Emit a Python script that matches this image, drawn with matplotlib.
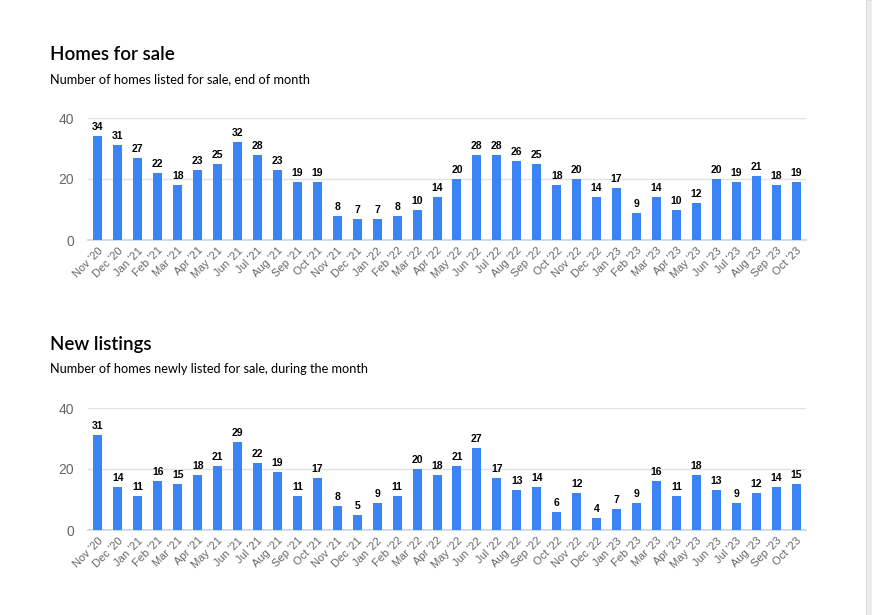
import matplotlib.pyplot as plt
from matplotlib.patches import Rectangle

# Data
months = ["Nov '20", "Dec '20", "Jan '21", "Feb '21", "Mar '21", "Apr '21", "May '21", "Jun '21",
          "Jul '21", "Aug '21", "Sep '21", "Oct '21", "Nov '21", "Dec '21", "Jan '22", "Feb '22",
          "Mar '22", "Apr '22", "May '22", "Jun '22", "Jul '22", "Aug '22", "Sep '22", "Oct '22",
          "Nov '22", "Dec '22", "Jan '23", "Feb '23", "Mar '23", "Apr '23", "May '23", "Jun '23",
          "Jul '23", "Aug '23", "Sep '23", "Oct '23"]
homes_for_sale = [34, 31, 27, 22, 18, 23, 25, 32, 28, 23, 19, 19, 8, 7, 7, 8, 10, 14, 20, 28,
                  28, 26, 25, 18, 20, 14, 17, 9, 14, 10, 12, 20, 19, 21, 18, 19]
new_listings = [31, 14, 11, 16, 15, 18, 21, 29, 22, 19, 11, 17, 8, 5, 9, 11, 20, 18, 21, 27,
                17, 13, 14, 6, 12, 4, 7, 9, 16, 11, 18, 13, 9, 12, 14, 15]
y_ticks = [0, 20, 40]

BAR_COLOR = "#3b84f6"
W, H = 872, 615


def draw_panel(fig, top_px, values, title, subtitle):
    left, right, bottom = 88, 806, top_px + 122
    ax = fig.add_axes([left / W, 1 - bottom / H, (right - left) / W, (bottom - top_px) / H])
    x = range(len(values))
    ax.bar(x, values, width=0.45, color=BAR_COLOR, zorder=3)
    for xi, v in zip(x, values):
        ax.text(xi, v + 1.3, str(v), ha="center", va="bottom", fontsize=7.5,
                fontweight="bold", family="Liberation Sans", color="black")
    ax.set_xlim(-0.5, len(values) - 0.5)
    ax.set_ylim(0, 40)
    ax.set_yticks(y_ticks)
    ax.set_xticks(list(x))
    ax.set_xticklabels(months, rotation=45, ha="right", rotation_mode="anchor",
                       fontsize=8, family="Liberation Sans", color="#666666")
    ax.tick_params(axis="x", length=0, pad=4)
    ax.tick_params(axis="y", length=0, pad=10, labelsize=10, labelcolor="#666666")
    for lab in ax.get_yticklabels():
        lab.set_family("Liberation Sans")
    ax.grid(axis="y", color="#e2e2e2", linewidth=1, zorder=0)
    for s in ["top", "right", "left"]:
        ax.spines[s].set_visible(False)
    ax.spines["bottom"].set_color("#c9d4ea")
    ax.spines["bottom"].set_linewidth(1.2)
    fig.text(50 / W, 1 - (top_px - 58) / H, title, fontsize=13.5, fontweight="semibold",
             family="Lato", color="black", va="baseline")
    fig.text(50 / W, 1 - (top_px - 35) / H, subtitle, fontsize=9.2, family="Lato",
             color="black", va="baseline")
    return ax


fig = plt.figure(figsize=(W / 100, H / 100), dpi=100)
draw_panel(fig, 118, homes_for_sale, "Homes for sale", "Number of homes listed for sale, end of month")
draw_panel(fig, 408, new_listings, "New listings", "Number of homes newly listed for sale, during the month")

# scrollbar strip at right edge
fig.patches.append(Rectangle((866 / W, 0), 6 / W, 1, transform=fig.transFigure,
                             facecolor="#ececec", edgecolor="#d8d8d8", linewidth=0.6))

fig.savefig("out.png", dpi=100)
